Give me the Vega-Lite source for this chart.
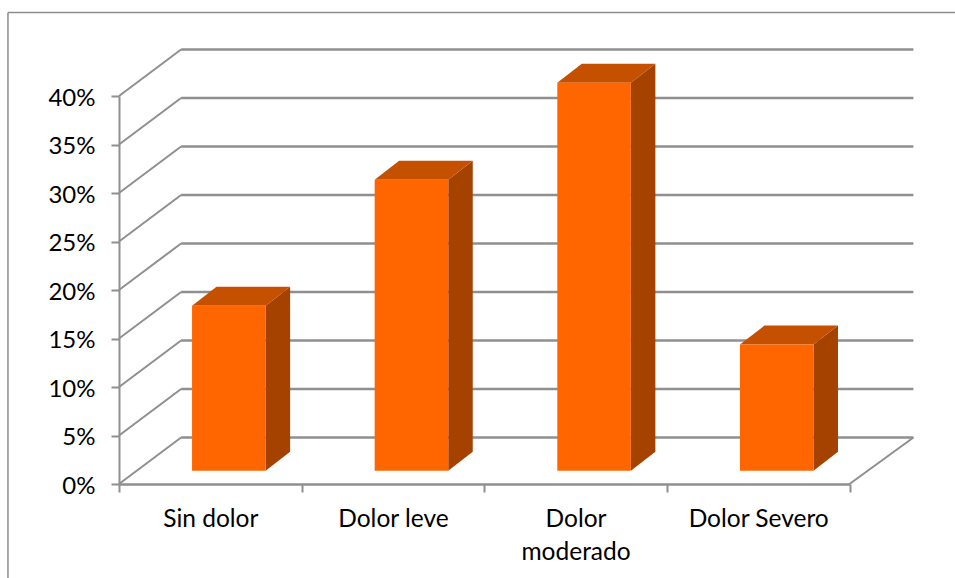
{
  "$schema": "https://vega.github.io/schema/vega-lite/v6.json",
  "width": 730.5,
  "height": 388,
  "padding": {"left": 119, "top": 96, "right": 105.5, "bottom": 94},
  "autosize": {"type": "none"},
  "background": "white",
  "config": {"view": {"stroke": null}},
  "datasets": {
    "pain": [
      {"category": "Sin dolor", "position": 0, "value": 17},
      {"category": "Dolor leve", "position": 1, "value": 30},
      {"category": "Dolor moderado", "position": 2, "value": 40},
      {"category": "Dolor Severo", "position": 3, "value": 13}
    ],
    "levels": [
      {"level": 0}, {"level": 5}, {"level": 10}, {"level": 15}, {"level": 20},
      {"level": 25}, {"level": 30}, {"level": 35}, {"level": 40}
    ],
    "frame": [{"left": -0.608, "right": 4.7, "top": 48.6, "bottom": -12}]
  },
  "resolve": {"scale": {"x": "independent"}, "axis": {"y": "independent"}},
  "layer": [
    {
      "data": {"name": "frame"},
      "mark": {"type": "rule", "color": "#8c8c8c", "strokeWidth": 1.5, "clip": false},
      "encoding": {
        "x": {"field": "left", "type": "quantitative", "scale": {"domain": [0, 4]}, "axis": null},
        "y": {"field": "bottom", "type": "quantitative", "scale": {"domain": [0, 40], "nice": false, "zero": false}, "axis": null},
        "y2": {"field": "top"}
      }
    },
    {
      "data": {"name": "frame"},
      "mark": {"type": "rule", "color": "#8c8c8c", "strokeWidth": 1.5, "clip": false},
      "encoding": {
        "x": {"field": "left", "type": "quantitative", "scale": {"domain": [0, 4]}, "axis": null},
        "x2": {"field": "right"},
        "y": {"field": "top", "type": "quantitative", "axis": null}
      }
    },
    {
      "data": {"name": "levels"},
      "transform": [
        {"calculate": "datum.level + 4.8", "as": "backLevel"},
        {"calculate": "0.34", "as": "backLeft"},
        {"calculate": "4.35", "as": "backRight"}
      ],
      "mark": {"type": "rule", "color": "#8f8f8f", "strokeWidth": 2.4, "clip": false},
      "encoding": {
        "x": {"field": "backLeft", "type": "quantitative", "scale": {"domain": [0, 4]}, "axis": null},
        "x2": {"field": "backRight"},
        "y": {"field": "backLevel", "type": "quantitative", "axis": null}
      }
    },
    {
      "data": {"name": "levels"},
      "transform": [
        {"calculate": "datum.level + 4.8", "as": "backLevel"},
        {"calculate": "0.34", "as": "backLeft"},
        {"calculate": "0", "as": "frontLeft"}
      ],
      "mark": {"type": "rule", "color": "#8f8f8f", "strokeWidth": 2, "clip": false},
      "encoding": {
        "x": {"field": "frontLeft", "type": "quantitative", "scale": {"domain": [0, 4]}, "axis": null},
        "x2": {"field": "backLeft"},
        "y": {"field": "level", "type": "quantitative", "axis": null},
        "y2": {"field": "backLevel"}
      }
    },
    {
      "data": {"values": [{"edge": "floor"}]},
      "transform": [
        {"calculate": "4", "as": "frontRight"},
        {"calculate": "4.35", "as": "backRight"},
        {"calculate": "0", "as": "floorFront"},
        {"calculate": "4.8", "as": "floorBack"}
      ],
      "mark": {"type": "rule", "color": "#8f8f8f", "strokeWidth": 2, "clip": false},
      "encoding": {
        "x": {"field": "frontRight", "type": "quantitative", "scale": {"domain": [0, 4]}, "axis": null},
        "x2": {"field": "backRight"},
        "y": {"field": "floorFront", "type": "quantitative", "axis": null},
        "y2": {"field": "floorBack"}
      }
    },
    {
      "data": {"name": "pain"},
      "transform": [
        {"calculate": "[0, 1]", "as": "depth"},
        {"flatten": ["depth"]},
        {"calculate": "datum.position + 0.803 + datum.depth * 0.134", "as": "sideX"},
        {"calculate": "1.37 + datum.depth * 1.96", "as": "sideBase"},
        {"calculate": "datum.value + 1.37 + datum.depth * 1.96", "as": "sideTop"}
      ],
      "mark": {"type": "area", "color": "#a64200", "interpolate": "linear", "clip": false},
      "encoding": {
        "x": {"field": "sideX", "type": "quantitative", "scale": {"domain": [0, 4]}, "axis": null},
        "y": {"field": "sideTop", "type": "quantitative", "axis": null},
        "y2": {"field": "sideBase"},
        "detail": {"field": "category"}
      }
    },
    {
      "data": {"name": "pain"},
      "transform": [
        {"calculate": "[0, 1]", "as": "depth"},
        {"flatten": ["depth"]},
        {"calculate": "datum.position + 0.4 + datum.depth * 0.134", "as": "topLeft"},
        {"calculate": "datum.position + 0.803 + datum.depth * 0.134", "as": "topRight"},
        {"calculate": "datum.value + 1.37 + datum.depth * 1.96", "as": "topY"}
      ],
      "mark": {"type": "area", "color": "#c55000", "orient": "horizontal", "interpolate": "linear", "clip": false},
      "encoding": {
        "y": {"field": "topY", "type": "quantitative", "axis": null},
        "x": {"field": "topLeft", "type": "quantitative", "scale": {"domain": [0, 4]}, "axis": null},
        "x2": {"field": "topRight"},
        "detail": {"field": "category"}
      }
    },
    {
      "data": {"name": "pain"},
      "transform": [
        {"calculate": "1.37", "as": "base"},
        {"calculate": "datum.value + 1.37", "as": "top"},
        {"calculate": "datum.position + 0.4", "as": "left"},
        {"calculate": "datum.position + 0.803", "as": "right"}
      ],
      "mark": {"type": "rect", "color": "#ff6600", "clip": false},
      "encoding": {
        "x": {"field": "left", "type": "quantitative", "scale": {"domain": [0, 4]}, "axis": null},
        "x2": {"field": "right"},
        "y": {"field": "top", "type": "quantitative", "axis": null},
        "y2": {"field": "base"}
      }
    },
    {
      "data": {"name": "pain"},
      "mark": {"type": "bar", "opacity": 0},
      "encoding": {
        "x": {
          "field": "category",
          "type": "nominal",
          "sort": null,
          "scale": {"paddingInner": 0, "paddingOuter": 0},
          "axis": {
            "title": null,
            "orient": "bottom",
            "labelAngle": 0,
            "tickBand": "extent",
            "labelFont": "Lato",
            "labelFontSize": 24.5,
            "labelColor": "#000000",
            "labelPadding": 15,
            "labelLimit": 0,
            "labelLineHeight": 33,
            "labelExpr": "datum.label == 'Dolor moderado' ? ['Dolor', 'moderado'] : datum.label",
            "domainColor": "#8f8f8f",
            "domainWidth": 2.4,
            "tickColor": "#8f8f8f",
            "tickWidth": 2,
            "tickSize": 8
          }
        },
        "y": {
          "field": "value",
          "type": "quantitative",
          "axis": {
            "title": null,
            "orient": "left",
            "values": [0, 5, 10, 15, 20, 25, 30, 35, 40],
            "labelExpr": "datum.value + '%'",
            "labelFont": "Lato",
            "labelFontSize": 24,
            "labelColor": "#000000",
            "labelPadding": 16,
            "labelOffset": 2,
            "domainColor": "#8f8f8f",
            "domainWidth": 2,
            "tickColor": "#8f8f8f",
            "tickWidth": 2,
            "tickSize": 8,
            "grid": false
          }
        }
      }
    }
  ]
}
